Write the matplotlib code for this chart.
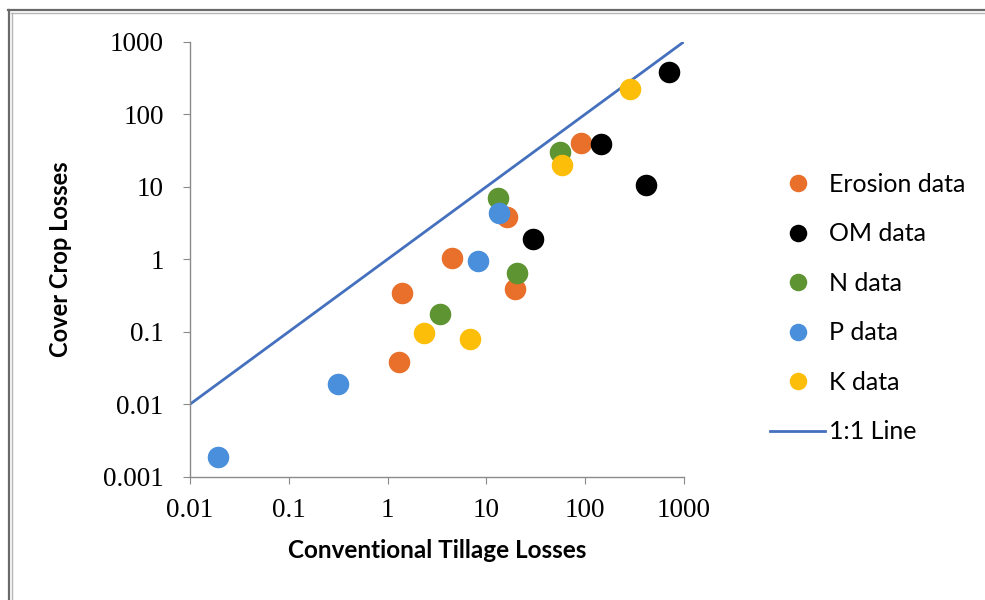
import matplotlib.pyplot as plt
from matplotlib.lines import Line2D

# values (log-log scatter)
erosion_x = [1.29, 1.40, 4.48, 19.6, 16.2, 91]
erosion_y = [0.0386, 0.339, 1.05, 0.385, 3.78, 40]
om_x = [29.6, 145, 417, 702]
om_y = [1.88, 38.8, 10.5, 385]
n_x = [3.41, 20.4, 13, 56]
n_y = [0.174, 0.65, 7.05, 29.8]
p_x = [0.0194, 0.318, 8.2, 13.3]
p_y = [0.00189, 0.0188, 0.95, 4.3]
k_x = [2.31, 6.77, 58, 283]
k_y = [0.095, 0.0785, 19.9, 223]
line_x = [0.01, 1000]
line_y = [0.01, 1000]

tick_vals = [0.001, 0.01, 0.1, 1, 10, 100, 1000]
tick_labels = ["0.001", "0.01", "0.1", "1", "10", "100", "1000"]

series = [
    ("Erosion data", erosion_x, erosion_y, "#E8702A"),
    ("OM data", om_x, om_y, "#000000"),
    ("N data", n_x, n_y, "#5E9431"),
    ("P data", p_x, p_y, "#4A8FDB"),
    ("K data", k_x, k_y, "#FDBE0A"),
]

fig = plt.figure(figsize=(9.85, 6), dpi=100)
fig.patch.set_facecolor("white")
ax = fig.add_axes([190/985, 1-476.7/600, 494/985, 435/600])

ax.plot(line_x, line_y, color="#4470BE", lw=2.0, zorder=2, label="1:1 Line")
for name, xs, ys, c in series:
    ax.plot(xs, ys, "o", ms=14.5, color=c, mec=c, zorder=3, label=name)

ax.set_xscale("log")
ax.set_yscale("log")
ax.set_xlim(0.01, 1000)
ax.set_ylim(0.001, 1000)
ax.set_xticks(tick_vals[1:])
ax.set_xticklabels(tick_labels[1:])
ax.set_yticks(tick_vals)
ax.set_yticklabels(tick_labels)
ax.minorticks_off()
for s in ["top", "right"]:
    ax.spines[s].set_visible(False)
for s in ["left", "bottom"]:
    ax.spines[s].set_color("#8A8A8A")
    ax.spines[s].set_linewidth(1.0)
ax.tick_params(direction="out", length=5, color="#8A8A8A")
for lab in ax.get_xticklabels() + ax.get_yticklabels():
    lab.set_fontfamily("Liberation Serif")
    lab.set_fontsize(19.5)
ax.tick_params(axis="x", pad=10)
ax.tick_params(axis="y", pad=14)

ax.set_xlabel("Conventional Tillage Losses", fontfamily="Lato", fontweight="bold",
              fontsize=17.5, labelpad=12)
ax.set_ylabel("Cover Crop Losses", fontfamily="Lato", fontweight="bold",
              fontsize=17, labelpad=22)

h, l = ax.get_legend_handles_labels()
order = [1, 2, 3, 4, 5, 0]
fig.legend([h[i] for i in order], [l[i] for i in order],
           loc="center left", bbox_to_anchor=(770/985, 1-308/600),
           frameon=False, borderpad=0, borderaxespad=0,
           handlelength=2.2, handletextpad=0.15,
           labelspacing=1.06, markerscale=0.8,
           prop={"family": "Lato", "size": 18})

# window border from the screenshot
fig.add_artist(Line2D([8/985, 1], [1-10/600, 1-10/600], color="#6A6A6A", lw=1.6))
fig.add_artist(Line2D([11/985, 1], [1-12.8/600, 1-12.8/600], color="#B5B5B5", lw=1.0))
fig.add_artist(Line2D([9/985, 9/985], [0, 1-10/600], color="#6A6A6A", lw=1.6))
fig.add_artist(Line2D([12/985, 12/985], [0, 1-12.8/600], color="#B5B5B5", lw=1.0))

fig.savefig("out.png", dpi=100)
